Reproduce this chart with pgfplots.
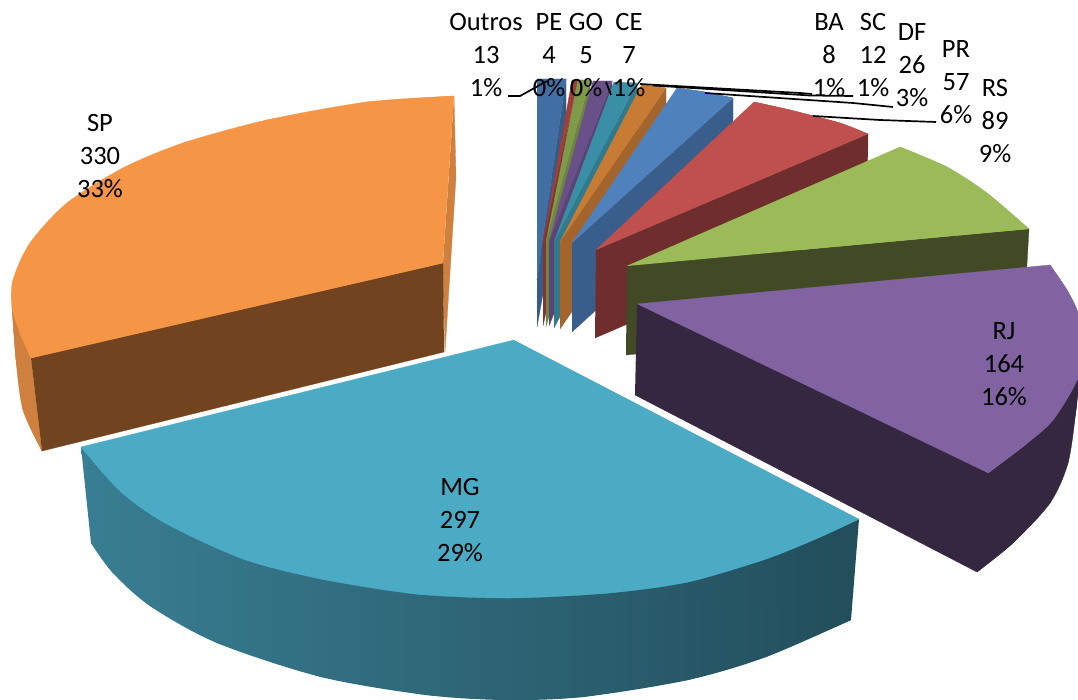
\documentclass[border=0pt]{standalone}
\usepackage{pgfplots}
\pgfplotsset{compat=1.18}
\usepackage{fontspec}
\setmainfont{Carlito}
\definecolor{oT}{HTML}{426FA3}\definecolor{oS}{HTML}{355B87}
\definecolor{peT}{HTML}{A03E3C}\definecolor{peS}{HTML}{823432}
\definecolor{goT}{HTML}{7F9A49}\definecolor{goS}{HTML}{6C8540}
\definecolor{ceT}{HTML}{6A5088}\definecolor{ceS}{HTML}{5A4475}
\definecolor{baT}{HTML}{3A8EA5}\definecolor{baS}{HTML}{317A8D}
\definecolor{scT}{HTML}{C77B34}\definecolor{scS}{HTML}{A3652C}
\definecolor{dfT}{HTML}{4F81BD}\definecolor{dfS}{HTML}{395E8C}
\definecolor{prT}{HTML}{BF504D}\definecolor{prS}{HTML}{6F2D2D}
\definecolor{rsT}{HTML}{9BBB59}\definecolor{rsS}{HTML}{414A24}
\definecolor{rjT}{HTML}{8063A0}\definecolor{rjS}{HTML}{35273F}
\definecolor{mgT}{HTML}{4BAAC4}\definecolor{mgL}{HTML}{4496AE}\definecolor{mgD}{HTML}{1E4450}
\colorlet{mgC}{mgD!1.5!mgL}
\definecolor{spT}{HTML}{F59646}\definecolor{spS}{HTML}{71441F}\definecolor{spE}{HTML}{CF803E}
\pgfdeclarehorizontalshading{mgs}{100bp}{color(0bp)=(mgL); color(85bp)=(mgD); color(100bp)=(mgD)}
\pgfdeclarehorizontalshading{mgc}{100bp}{color(0bp)=(mgC); color(85.7bp)=(mgD); color(100bp)=(mgD)}
\newcommand\poly[2]{\addplot[fill=#1,draw=#1,line width=.3pt,mark=none,forget plot] coordinates {#2};}
\newcommand\arcfill[2]{\addplot[smooth,fill=#1,draw=#1,line width=.3pt,mark=none,forget plot] coordinates {#2};}
\newcommand\lead[1]{\addplot[black,line width=1.7pt,mark=none,forget plot] coordinates {#1};}
\begin{document}
\begin{tikzpicture}
\path[use as bounding box] (0,0) rectangle (1078pt,700pt);
\begin{axis}[at={(0,0)},anchor=south west,width=1078pt,height=700pt,scale only axis,
  xmin=0,xmax=1078,ymin=0,ymax=700,y dir=reverse,hide axis,
  nodes={font=\fontsize{26.5}{33}\selectfont,align=center,text=black,inner sep=0pt}]
% Outros
\poly{oS}{(537,327)(566,166)(566,79)(542,242)(537,280)}
\poly{oT}{(537,79)(566,79)(542,242)(537,280)}
% PE
\poly{peS}{(543,242)(578,80)(578,167)(543,326)}
\poly{peT}{(543,242)(572,80)(578,80)}
% GO
\poly{goS}{(546,242)(590,80)(590,167)(546,327)}
\poly{goT}{(546,242)(578,80)(590,80)}
% CE
\poly{ceS}{(549,242)(612,81)(612,168)(549,326)}
\poly{ceT}{(549,242)(593,81)(612,81)}
% BA
\poly{baS}{(554,242)(637,83)(637,170)(554,328)}
\poly{baT}{(554,242)(614,82)(637,83)}
% SC
\poly{scS}{(560,242)(666,88)(666,175)(560,329)}
\poly{scT}{(560,242)(642,84)(666,88)}
% DF
\poly{dfS}{(572,243)(733,98)(733,185)(572,332)}
\poly{dfT}{(572,243)(677,88)(705,92)(733,98)}
\arcfill{dfT}{(677,88)(705,92)(733,98)}
% PR
\poly{prS}{(596,250)(868,134)(867,221)(595,338)}
\poly{prT}{(596,250)(754,102)(790,110)(840,123)(868,134)}
\arcfill{prT}{(754,102)(790,110)(840,123)(868,134)}
% RS
\poly{rsS}{(627,266)(1029,229)(1024,316)(626,355)}
\poly{rsT}{(627,266)(900,147)(947,167)(987,193)(1029,229)}
\arcfill{rsT}{(900,147)(947,167)(987,193)(1029,229)}
% RJ
\poly{rjS}{(637,304)(1080,370)(1076,410)(1068,463)(1050,503)(1013,543)(977,572)(635,395)}
\arcfill{rjS}{(977,572)(1013,543)(1050,503)(1068,463)(1076,410)(1080,370)}
\poly{rjT}{(637,304)(1050,265)(1067,290)(1078,313)(1082,345)(1078,378)(1053,420)(1025,445)(988,473)}
\arcfill{rjT}{(1050,265)(1067,290)(1078,313)(1082,345)(1078,378)(1053,420)(1025,445)(988,473)}
% SP
\poly{spE}{(454,96)(456,177)(445,352)(443,263)}
\poly{spE}{(12,307)(16,360)(23,410)(42,451)(31,358)}
\arcfill{spE}{(12,307)(16,360)(23,410)(42,451)}
\poly{spS}{(31,358)(443,263)(444,352)(42,451)}
\poly{spT}{(454,96)(367,102)(267,120)(183,143)(123,168)(67,203)(30,243)(13,280)(12,307)(20,333)(31,358)(443,263)}
\arcfill{spT}{(454,96)(367,102)(267,120)(183,143)(123,168)(67,203)(30,243)(13,280)(12,307)(20,333)(31,358)}
% MG
\addplot[draw=none,shade,shading=mgs,mark=none,forget plot] coordinates {(81,447)(859,519)(851,620)(766,657)(688,680)(583,697)(505,700)(426,695)(321,677)(217,643)(150,606)(112,572)(91,543)};
\addplot[smooth,draw=none,shade,shading=mgc,mark=none,forget plot] coordinates {(91,543)(112,572)(150,606)(217,643)(321,677)(426,695)(505,700)(583,697)(688,680)(766,657)(851,620)};
\poly{mgT}{(514,340)(81,447)(120,491)(165,523)(243,559)(321,579)(416,594)(510,598)(609,593)(688,582)(766,559)(818,538)(859,519)}
\arcfill{mgT}{(81,447)(120,491)(165,523)(243,559)(321,579)(416,594)(510,598)(609,593)(688,582)(766,559)(818,538)(859,519)}
% leader lines
\lead{(508,96)(520,96)(547,81)}
\lead{(606,82)(611,95)}
\lead{(640,84)(800,93)(812,94)}
\lead{(653,85.5)(810,95.5)(853,96)}
\lead{(705,93)(853,103)(893,107)}
\lead{(813,116)(880,120)(936,122)}
% labels
\node at (axis cs:486,55) {Outros\\13\\1\%};
\node at (axis cs:549,55) {PE\\4\\0\%};
\node at (axis cs:586,55) {GO\\5\\0\%};
\node at (axis cs:629,55) {CE\\7\\1\%};
\node at (axis cs:829,55) {BA\\8\\1\%};
\node at (axis cs:873,55) {SC\\12\\1\%};
\node at (axis cs:912,65) {DF\\26\\3\%};
\node at (axis cs:956,82) {PR\\57\\6\%};
\node at (axis cs:995,121) {RS\\89\\9\%};
\node at (axis cs:1004,364) {RJ\\164\\16\%};
\node at (axis cs:460,520) {MG\\297\\29\%};
\node at (axis cs:100,156) {SP\\330\\33\%};
\end{axis}
\end{tikzpicture}
\end{document}
